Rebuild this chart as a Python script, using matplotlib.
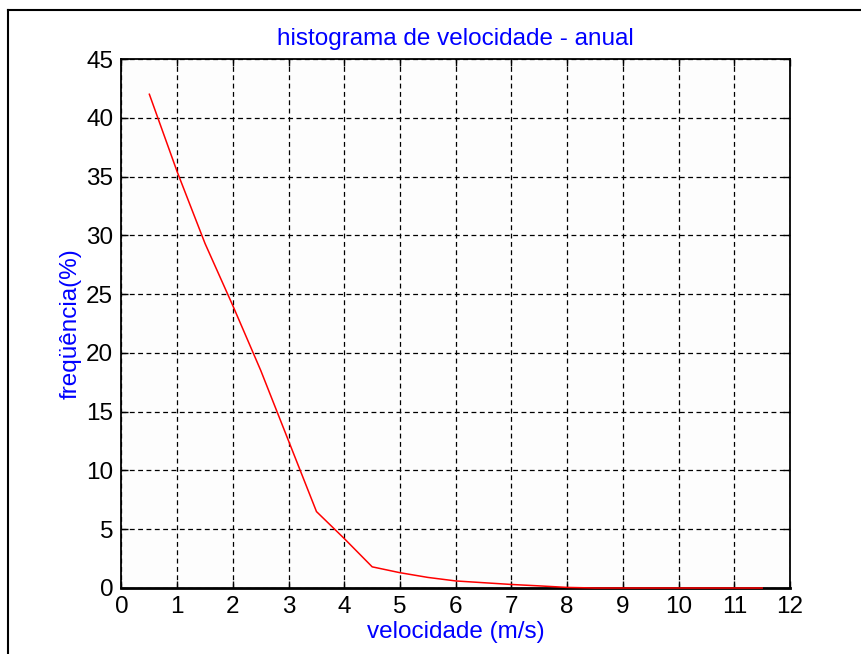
import matplotlib
matplotlib.use("Agg")
import matplotlib.pyplot as plt
from matplotlib.lines import Line2D

plt.rcParams['font.family'] = ['Liberation Sans', 'DejaVu Sans']
plt.rcParams['lines.scale_dashes'] = False

velocidade = [0.5, 1.0, 1.5, 2.0, 2.5, 3.0, 3.5, 4.0, 4.5, 5.0, 5.5, 6.0,
              6.5, 7.0, 7.5, 8.0, 8.5, 9.0, 9.5, 10.0, 10.5, 11.0, 11.5]
frequencia = [42.0, 35.4, 29.3, 24.0, 18.5, 12.5, 6.5, 4.2, 1.8, 1.3, 0.9, 0.6,
              0.45, 0.3, 0.18, 0.05, 0.0, 0.0, 0.0, 0.0, 0.0, 0.0, 0.0]
xticks = list(range(0, 13))
yticks = list(range(0, 46, 5))

title = "histograma de velocidade - anual"
xlabel = "velocidade (m/s)"
ylabel = "freqüência(%)"

fig = plt.figure(figsize=(8.62, 6.54), dpi=100)
fig.patch.set_facecolor('white')
ax = fig.add_axes([121.5/862, 1-588/654, (790-121.5)/862, (588-59)/654])
ax.set_facecolor('#fdfdfd')

ax.plot(velocidade, frequencia, color='#ff0000', linewidth=1.1, zorder=5,
        clip_on=False)

ax.set_xlim(0, 12)
ax.set_ylim(0, 45)
ax.set_xticks(xticks)
ax.set_yticks(yticks)
ax.tick_params(direction='in', length=5, width=1, top=True, right=True,
               labelsize=17.5, colors='black')
ax.tick_params(axis='x', pad=6)
ax.tick_params(axis='y', pad=6)
ax.grid(True, color='black', linestyle=(0, (3.5, 2.5)), linewidth=0.9)
for s in ax.spines.values():
    s.set_linewidth(1.3)
    s.set_color('black')
ax.spines['bottom'].set_linewidth(2.0)

ax.set_title(title, color='#0000ff', fontsize=17.5, pad=10)
ax.set_xlabel(xlabel, color='#0000ff', fontsize=17.5, labelpad=2)
ax.set_ylabel(ylabel, color='#0000ff', fontsize=17.5, labelpad=3)

# figure frame (top and left edges visible)
fig.add_artist(Line2D([8/862, 1.0], [1-10/654, 1-10/654], transform=fig.transFigure,
                      color='black', linewidth=1.5))
fig.add_artist(Line2D([8/862, 8/862], [0.0, 1-10/654], transform=fig.transFigure,
                      color='black', linewidth=1.5))

fig.savefig('out.png', dpi=100, facecolor='white')
